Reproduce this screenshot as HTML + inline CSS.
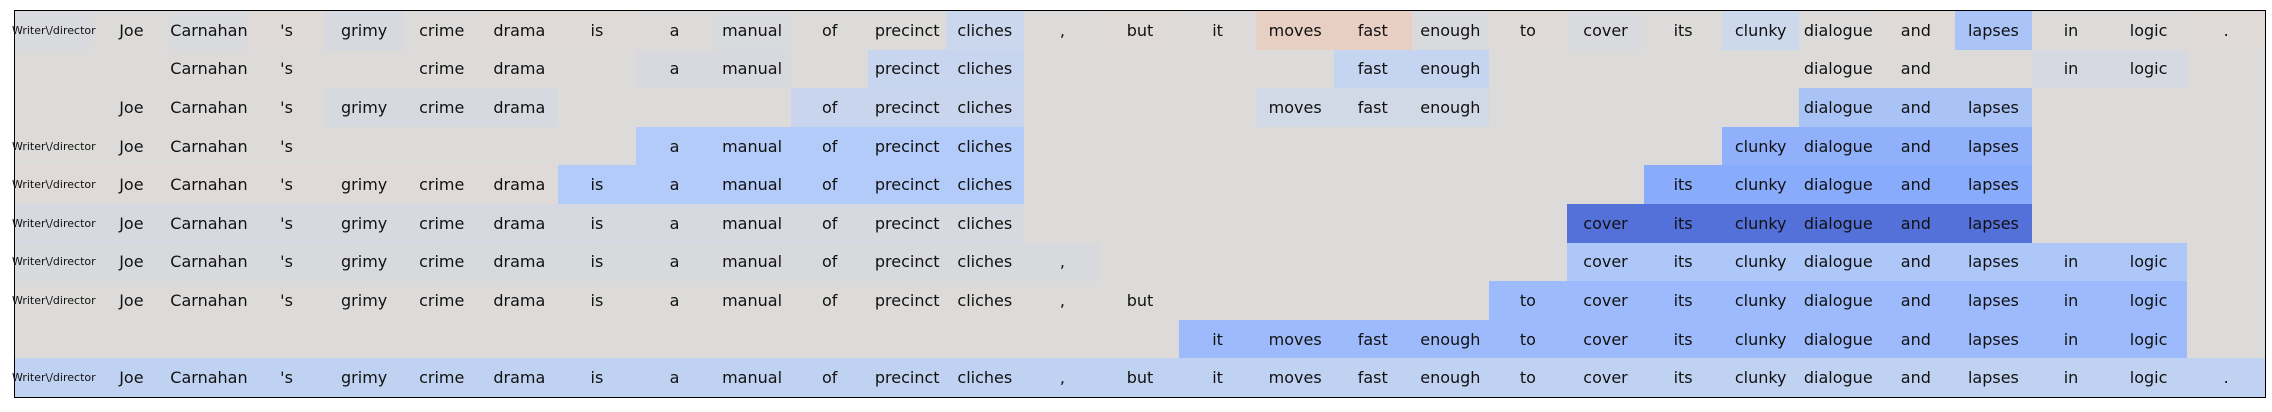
<!DOCTYPE html>
<html><head><meta charset="utf-8">
<style>
html,body{margin:0;padding:0;background:#fff;width:2272px;height:412px;overflow:hidden}
#f{position:absolute;left:14px;top:10px;width:2250px;height:386px;border:1.5px solid #000;background:#dcdbda;display:grid;grid-template-columns:repeat(29,minmax(0,1fr));grid-template-rows:repeat(10,minmax(0,1fr));font-family:"DejaVu Sans","Liberation Sans",sans-serif;font-size:16px;color:#111}
#f>i{font-style:normal;display:flex;align-items:center;justify-content:center;white-space:nowrap;overflow:visible;min-width:0}
#f>i.s{font-size:11px;position:relative;z-index:2}
</style></head><body><div id="f">
<!-- row1 -->
<i class="s" style="background:#d9dadd">Writer\/director</i><i>Joe</i><i style="background:#d9dadd">Carnahan</i><i style="background:#dfdad7">'s</i><i style="background:#d6d9e0">grimy</i><i>crime</i><i style="background:#dfdad7">drama</i><i style="background:#dfdad7">is</i><i>a</i><i style="background:#d9dadd">manual</i><i>of</i><i>precinct</i><i style="background:#cbd7ec">cliches</i><i>,</i><i style="background:#dfdad7">but</i><i>it</i><i style="background:#e8cfc3">moves</i><i style="background:#e8cfc3">fast</i><i style="background:#d9dadd">enough</i><i style="background:#dfdad7">to</i><i style="background:#d9dadd">cover</i><i>its</i><i style="background:#ccd8ec">clunky</i><i>dialogue</i><i style="background:#dfdad7">and</i><i style="background:#aac4f8">lapses</i><i>in</i><i>logic</i><i style="background:#dfdad7">.</i>
<!-- row2 -->
<i></i><i></i><i>Carnahan</i><i>'s</i><i></i><i>crime</i><i>drama</i><i></i><i style="background:#d7d9de">a</i><i style="background:#d7d9de">manual</i><i></i><i style="background:#c8d5ee">precinct</i><i style="background:#c8d5ee">cliches</i><i></i><i></i><i></i><i></i><i style="background:#c5d4f0">fast</i><i style="background:#c5d4f0">enough</i><i></i><i></i><i></i><i></i><i>dialogue</i><i>and</i><i></i><i style="background:#d6d9e1">in</i><i style="background:#d6d9e1">logic</i><i></i>
<!-- row3 -->
<i></i><i>Joe</i><i>Carnahan</i><i>'s</i><i style="background:#d6d9e0">grimy</i><i style="background:#d6d9e0">crime</i><i style="background:#d6d9e0">drama</i><i></i><i></i><i></i><i style="background:#c9d5ec">of</i><i style="background:#c9d5ec">precinct</i><i style="background:#c9d5ec">cliches</i><i></i><i></i><i></i><i style="background:#d1d8e6">moves</i><i style="background:#d1d8e6">fast</i><i style="background:#d1d8e6">enough</i><i></i><i></i><i></i><i></i><i style="background:#a9c3f7">dialogue</i><i style="background:#a9c3f7">and</i><i style="background:#a9c3f7">lapses</i><i></i><i></i><i></i>
<!-- row4 -->
<i class="s">Writer\/director</i><i>Joe</i><i>Carnahan</i><i>'s</i><i></i><i></i><i></i><i></i><i style="background:#b3cbf8">a</i><i style="background:#b3cbf8">manual</i><i style="background:#b3cbf8">of</i><i style="background:#b3cbf8">precinct</i><i style="background:#b3cbf8">cliches</i><i></i><i></i><i></i><i></i><i></i><i></i><i></i><i></i><i></i><i style="background:#90b0fb">clunky</i><i style="background:#90b0fb">dialogue</i><i style="background:#90b0fb">and</i><i style="background:#90b0fb">lapses</i><i></i><i></i><i></i>
<!-- row5 -->
<i class="s" style="background:#dfdad7">Writer\/director</i><i style="background:#dfdad7">Joe</i><i style="background:#dfdad7">Carnahan</i><i style="background:#dfdad7">'s</i><i style="background:#dfdad7">grimy</i><i style="background:#dfdad7">crime</i><i style="background:#dfdad7">drama</i><i style="background:#b3cbf8">is</i><i style="background:#b3cbf8">a</i><i style="background:#b3cbf8">manual</i><i style="background:#b3cbf8">of</i><i style="background:#b3cbf8">precinct</i><i style="background:#b3cbf8">cliches</i><i></i><i></i><i></i><i></i><i></i><i></i><i></i><i></i><i style="background:#89abfb">its</i><i style="background:#89abfb">clunky</i><i style="background:#89abfb">dialogue</i><i style="background:#89abfb">and</i><i style="background:#89abfb">lapses</i><i></i><i></i><i></i>
<!-- row6 -->
<i class="s" style="background:#d6d9e0">Writer\/director</i><i style="background:#d6d9e0">Joe</i><i style="background:#d6d9e0">Carnahan</i><i style="background:#d6d9e0">'s</i><i style="background:#d6d9e0">grimy</i><i style="background:#d6d9e0">crime</i><i style="background:#d6d9e0">drama</i><i style="background:#d6d9df">is</i><i style="background:#d6d9df">a</i><i style="background:#d6d9df">manual</i><i style="background:#d6d9df">of</i><i style="background:#d6d9df">precinct</i><i style="background:#d6d9df">cliches</i><i></i><i></i><i></i><i></i><i></i><i></i><i></i><i style="background:#5470d9">cover</i><i style="background:#5470d9">its</i><i style="background:#5470d9">clunky</i><i style="background:#5470d9">dialogue</i><i style="background:#5470d9">and</i><i style="background:#5470d9">lapses</i><i></i><i></i><i></i>
<!-- row7 -->
<i class="s" style="background:#d7d9dd">Writer\/director</i><i style="background:#d7d9dd">Joe</i><i style="background:#d7d9dd">Carnahan</i><i style="background:#d7d9dd">'s</i><i style="background:#d7d9dd">grimy</i><i style="background:#d7d9dd">crime</i><i style="background:#d7d9dd">drama</i><i style="background:#d7d9dd">is</i><i style="background:#d7d9dd">a</i><i style="background:#d7d9dd">manual</i><i style="background:#d7d9dd">of</i><i style="background:#d7d9dd">precinct</i><i style="background:#d7d9dd">cliches</i><i style="background:#d7d9dd">,</i><i></i><i></i><i></i><i></i><i></i><i></i><i style="background:#adc7f8">cover</i><i style="background:#adc7f8">its</i><i style="background:#adc7f8">clunky</i><i style="background:#adc7f8">dialogue</i><i style="background:#adc7f8">and</i><i style="background:#adc7f8">lapses</i><i style="background:#adc7f8">in</i><i style="background:#adc7f8">logic</i><i></i>
<!-- row8 -->
<i class="s">Writer\/director</i><i>Joe</i><i>Carnahan</i><i>'s</i><i>grimy</i><i>crime</i><i>drama</i><i>is</i><i>a</i><i>manual</i><i>of</i><i>precinct</i><i>cliches</i><i>,</i><i>but</i><i></i><i></i><i></i><i></i><i style="background:#9dbbfc">to</i><i style="background:#9dbbfc">cover</i><i style="background:#9dbbfc">its</i><i style="background:#9dbbfc">clunky</i><i style="background:#9dbbfc">dialogue</i><i style="background:#9dbbfc">and</i><i style="background:#9dbbfc">lapses</i><i style="background:#9dbbfc">in</i><i style="background:#9dbbfc">logic</i><i></i>
<!-- row9 -->
<i></i><i></i><i></i><i></i><i></i><i></i><i></i><i></i><i></i><i></i><i></i><i></i><i></i><i></i><i></i><i style="background:#9dbbfc">it</i><i style="background:#9dbbfc">moves</i><i style="background:#9dbbfc">fast</i><i style="background:#9dbbfc">enough</i><i style="background:#9dbbfc">to</i><i style="background:#9dbbfc">cover</i><i style="background:#9dbbfc">its</i><i style="background:#9dbbfc">clunky</i><i style="background:#9dbbfc">dialogue</i><i style="background:#9dbbfc">and</i><i style="background:#9dbbfc">lapses</i><i style="background:#9dbbfc">in</i><i style="background:#9dbbfc">logic</i><i></i>
<!-- row10 -->
<i class="s" style="background:#c0d2f2">Writer\/director</i><i style="background:#c0d2f2">Joe</i><i style="background:#c0d2f2">Carnahan</i><i style="background:#c0d2f2">'s</i><i style="background:#c0d2f2">grimy</i><i style="background:#c0d2f2">crime</i><i style="background:#c0d2f2">drama</i><i style="background:#c0d2f2">is</i><i style="background:#c0d2f2">a</i><i style="background:#c0d2f2">manual</i><i style="background:#c0d2f2">of</i><i style="background:#c0d2f2">precinct</i><i style="background:#c0d2f2">cliches</i><i style="background:#c0d2f2">,</i><i style="background:#c0d2f2">but</i><i style="background:#c0d2f2">it</i><i style="background:#c0d2f2">moves</i><i style="background:#c0d2f2">fast</i><i style="background:#c0d2f2">enough</i><i style="background:#c0d2f2">to</i><i style="background:#c0d2f2">cover</i><i style="background:#c0d2f2">its</i><i style="background:#c0d2f2">clunky</i><i style="background:#c0d2f2">dialogue</i><i style="background:#c0d2f2">and</i><i style="background:#c0d2f2">lapses</i><i style="background:#c0d2f2">in</i><i style="background:#c0d2f2">logic</i><i style="background:#c0d2f2">.</i>
</div></body></html>
